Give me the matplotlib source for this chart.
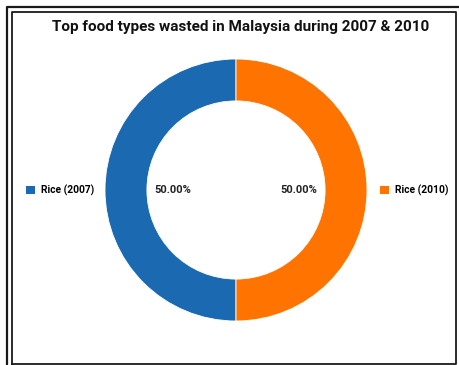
import matplotlib.pyplot as plt
from matplotlib.lines import Line2D
from matplotlib.patches import Patch

plt.rcParams['font.family'] = ['Roboto', 'DejaVu Sans']

labels = ["Rice (2007)", "Rice (2010)"]
shares = [50.0, 50.0]
colors = ["#1b69b0", "#ff7400"]
title = "Top food types wasted in Malaysia during 2007 & 2010"

W, H = 459, 365
fig = plt.figure(figsize=(W / 100, H / 100), dpi=100)
fig.patch.set_facecolor("white")

# donut centre and outer radius in pixels
cx, cy, r = 236, 190, 131
ax = fig.add_axes([(cx - r) / W, (H - cy - r) / H, 2 * r / W, 2 * r / H])
wedges, _, pcts = ax.pie(
    shares, colors=colors, startangle=90, radius=1.0,
    autopct="%.2f%%", pctdistance=0.48,
    wedgeprops=dict(width=0.32, edgecolor="white", linewidth=0.6),
    textprops=dict(fontsize=8, weight="bold", color="#222222"),
)
ax.set_xlim(-1, 1)
ax.set_ylim(-1, 1)
ax.set_aspect("auto")
ax.axis("off")

fig.text(241 / W, 1 - 27 / H, title, ha="center", va="center",
         fontsize=11, weight="bold", color="#111111")

# legend entries either side of the ring
for i, xpos in [(0, 26), (1, 380)]:
    fig.legend(handles=[Patch(facecolor=colors[i], label=labels[i])],
               loc="center left", bbox_to_anchor=(xpos / W, 1 - 190 / H),
               frameon=False, handlelength=0.85, handleheight=0.85,
               handletextpad=0.6, borderpad=0, borderaxespad=0,
               prop=dict(size=7.4, weight="bold"))

# double frame around the chart
def frame_line(xs, ys, lw):
    fig.add_artist(Line2D([x / W for x in xs], [1 - y / H for y in ys],
                          color="#1a1a1a", linewidth=lw,
                          transform=fig.transFigure))

frame_line([7, 7, W + 2], [H + 2, 7, 7], 1.6)
frame_line([12, 12, 455.5, 455.5, 12], [363.5, 12, 12, 363.5, 363.5], 1.3)

fig.savefig("out.png", dpi=100)
